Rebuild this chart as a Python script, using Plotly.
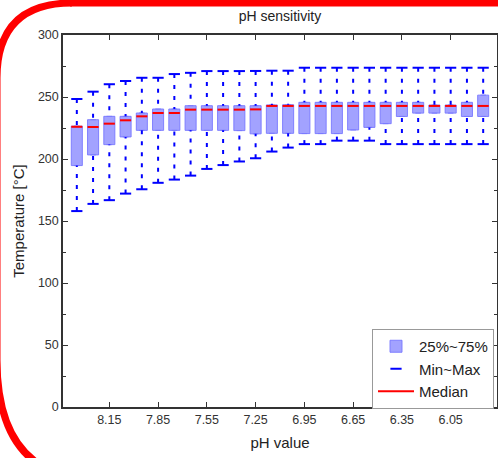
import plotly.graph_objects as go

# pH steps, one box per step
ph = [8.35, 8.25, 8.15, 8.05, 7.95, 7.85, 7.75, 7.65, 7.55, 7.45, 7.35, 7.25, 7.15,
      7.05, 6.95, 6.85, 6.75, 6.65, 6.55, 6.45, 6.35, 6.25, 6.15, 6.05, 5.95, 5.85]

t_max = [248.4, 254.3, 260.3, 262.9, 265.5, 265.5, 268.5, 269.5, 270.9, 270.9, 270.9, 271.0, 271.2,
         271.2, 273.6, 273.6, 273.6, 273.6, 273.6, 273.6, 273.6, 273.6, 273.6, 273.6, 273.6, 273.6]
t_q3 = [226.5, 231.7, 234.4, 234.4, 237.1, 240.3, 240.3, 243.0, 243.0, 243.0, 243.0, 243.0, 243.6,
        243.8, 245.7, 245.7, 245.7, 245.7, 245.7, 245.7, 245.7, 245.7, 243.5, 243.5, 245.7, 251.5]
t_med = [226.0, 225.8, 228.5, 231.2, 234.4, 237.1, 237.1, 239.8, 239.8, 239.8, 239.8, 240.0, 242.8,
         242.8, 242.8, 242.8, 242.8, 242.8, 242.8, 242.8, 242.8, 242.8, 242.8, 242.8, 242.8, 242.8]
t_q1 = [194.7, 203.3, 211.6, 217.8, 223.1, 223.1, 223.1, 223.1, 223.1, 223.1, 222.9, 220.3, 220.7,
        220.7, 220.5, 220.5, 220.5, 223.4, 225.5, 228.5, 234.3, 237.0, 237.0, 237.0, 234.3, 234.3]
t_min = [158.0, 163.8, 166.8, 172.1, 175.6, 180.8, 183.4, 186.6, 192.0, 195.1, 198.0, 200.6, 206.0,
         209.2, 212.0, 212.0, 214.8, 214.8, 214.8, 212.0, 212.0, 212.0, 212.0, 212.0, 212.0, 212.0]

x_ticks = [8.15, 7.85, 7.55, 7.25, 6.95, 6.65, 6.35, 6.05]

W, H = 498, 458
ML, MR, MT, MB = 63, 1, 35, 51
PW, PH = W - ML - MR, H - MT - MB
FONT = "Liberation Sans, Arial, sans-serif"
hw = 0.034  # half box width (pH units)

fig = go.Figure()

fig.add_trace(go.Box(
    x=ph, q1=t_q1, median=t_med, q3=t_q3, lowerfence=t_q1, upperfence=t_q3,
    width=2 * hw, name="25%~75%",
    fillcolor="rgba(70,70,255,0.5)",
    line=dict(color="rgba(120,120,255,0.9)", width=1),
    hoverinfo="skip",
))

# dashed whiskers from the caps to the box
wx, wy = [], []
for i in range(len(ph)):
    wx += [ph[i], ph[i], None, ph[i], ph[i], None]
    wy += [t_max[i], t_q3[i], None, t_min[i], t_q1[i], None]
fig.add_trace(go.Scatter(
    x=wx, y=wy, mode="lines", showlegend=False, legendgroup="mm",
    line=dict(color="#0000ff", width=2, dash="4px,7px"), hoverinfo="skip",
))

fig.add_trace(go.Scatter(
    x=ph + ph, y=t_max + t_min, mode="markers", name="Min~Max", legendgroup="mm",
    marker=dict(symbol="line-ew", size=8, line=dict(color="#0000ff", width=2)),
    hoverinfo="skip",
))

mx, my = [], []
for i in range(len(ph)):
    mx += [ph[i] - hw, ph[i] + hw, None]
    my += [t_med[i], t_med[i], None]
fig.add_trace(go.Scatter(
    x=mx, y=my, mode="lines", name="Median",
    line=dict(color="#ff0000", width=2), hoverinfo="skip",
))

# window pixel -> paper coordinates
def paper_x(px):
    return (px - ML) / PW

def paper_y(py):
    return (H - MB - py) / PH

# red rounded highlight frame (left part of it shows in the picture)
pts = [(72, 3), (-3, 3), (-3, 78), (-3, 360), (-3, 480), (100, 480)]
p = [(paper_x(a), paper_y(b)) for a, b in pts]
path = ("M {0[0]},{0[1]} Q {1[0]},{1[1]} {2[0]},{2[1]} "
        "L {3[0]},{3[1]} Q {4[0]},{4[1]} {5[0]},{5[1]}").format(*p)
fig.add_shape(type="path", path=path, xref="paper", yref="paper",
              line=dict(color="#ff0000", width=7), layer="above")
# top edge of the frame
fig.add_shape(type="line", xref="paper", yref="paper",
              x0=paper_x(70), x1=paper_x(505), y0=paper_y(3), y1=paper_y(3),
              line=dict(color="#ff0000", width=7), layer="above")

axis_common = dict(
    showline=True, linecolor="#333333", linewidth=1.5, mirror="ticks",
    ticks="inside", ticklen=5, tickwidth=1.2, tickcolor="#333333",
    showgrid=False, zeroline=False, automargin=False,
    tickfont=dict(family=FONT, size=12.5, color="#333333"),
)

fig.update_xaxes(
    range=[8.435, 5.765], tickvals=x_ticks, ticktext=["%.2f" % v for v in x_ticks],
    title=dict(text="pH value", font=dict(family=FONT, size=15, color="#222222"), standoff=12),
    **axis_common,
)
fig.update_yaxes(
    range=[0, 300], dtick=50,
    minor=dict(dtick=25, ticks="inside", ticklen=3, tickcolor="#333333", showgrid=False),
    title=dict(text="Temperature [°C]", font=dict(family=FONT, size=15, color="#222222"), standoff=10),
    **axis_common,
)

fig.update_layout(
    width=W, height=H,
    margin=dict(l=ML, r=MR, t=MT, b=MB, autoexpand=False),
    paper_bgcolor="white", plot_bgcolor="white",
    title=dict(text="pH sensitivity", x=0.5, xref="paper", xanchor="center",
               y=1 - 16 / H, yref="container", yanchor="middle",
               font=dict(family=FONT, size=14, color="#222222")),
    legend=dict(x=paper_x(372), y=paper_y(329), xanchor="left", yanchor="top",
                bgcolor="white", bordercolor="#999999", borderwidth=1,
                font=dict(family=FONT, size=15, color="#222222"),
                itemwidth=36, tracegroupgap=0),
    showlegend=True,
)

# drop the page's default body margin so the figure sits at the window corner
fig.write_html("out.html", config={"displayModeBar": False},
               post_script="document.body.style.margin='0';")
